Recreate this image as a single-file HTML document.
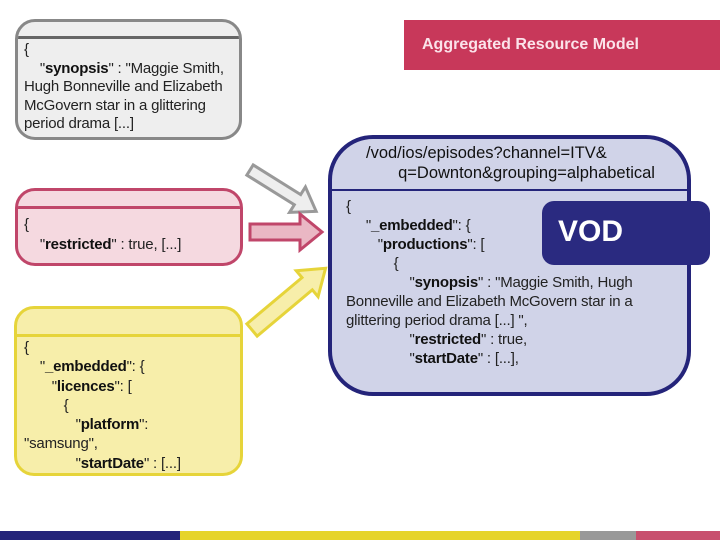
<!DOCTYPE html>
<html><head><meta charset="utf-8"><style>
body{margin:0;width:720px;height:540px;position:relative;background:#fff;font-family:"Liberation Sans",sans-serif;overflow:hidden}
.box{position:absolute;box-sizing:border-box;border-radius:20px;overflow:hidden}
.hdr{border-bottom:3px solid}
.t{position:absolute;font-size:15px;line-height:18.5px;color:#222;white-space:pre;letter-spacing:-0.2px}
b{color:#111}
</style></head><body>
<div class="box" style="left:15px;top:19px;width:227px;height:121px;background:#eee;border:3px solid #888">
<div class="hdr" style="height:14px;border-color:#666"></div></div>
<div class="t" style="left:24px;top:41px">{
    "<b>synopsis</b>" : "Maggie Smith,
Hugh Bonneville and Elizabeth
McGovern star in a glittering
period drama [...]</div>

<div class="box" style="left:15px;top:188px;width:228px;height:78px;background:#f5d9e0;border:3px solid #c0466a">
<div class="hdr" style="height:15px;border-color:#c0466a"></div></div>
<div class="t" style="left:24px;top:215px;line-height:20px">{
    "<b>restricted</b>" : true, [...]</div>

<div class="box" style="left:14px;top:306px;width:229px;height:170px;background:#f7eeaa;border:3px solid #e6d43a">
<div class="hdr" style="height:25px;border-color:#e6d43a"></div></div>
<div class="t" style="left:24px;top:338px;line-height:19.3px">{
    "<b>_embedded</b>": {
       "<b>licences</b>": [
          {
             "<b>platform</b>":
"samsung",
             "<b>startDate</b>" : [...]</div>

<div class="box" style="left:328px;top:135px;width:363px;height:261px;background:#d0d3e8;border:4px solid #24247a;border-radius:45px">
<div class="hdr" style="height:50px;border-color:#24247a;border-bottom-width:2px"></div></div>
<div class="t" style="left:366px;top:143px;font-size:16.5px;line-height:20px;color:#111;letter-spacing:0">/vod/ios/episodes?channel=ITV&amp;
       q=Downton&amp;grouping=alphabetical</div>
<div class="t" style="left:346px;top:197px;line-height:19px">{
     "<b>_embedded</b>": {
        "<b>productions</b>": [
            {
                "<b>synopsis</b>" : "Maggie Smith, Hugh
Bonneville and Elizabeth McGovern star in a
glittering period drama [...] ",
                "<b>restricted</b>" : true,
                "<b>startDate</b>" : [...],</div>
<div style="position:absolute;left:542px;top:201px;width:168px;height:64px;background:#2a2a80;border-radius:12px"></div>
<div style="position:absolute;left:558px;top:215px;color:#fff;font-size:30px;font-weight:bold">VOD</div>

<div style="position:absolute;left:404px;top:20px;width:316px;height:50px;background:#c8385a"></div>
<div style="position:absolute;left:422px;top:36px;color:#fbe3ea;font-size:16px;font-weight:bold">Aggregated Resource Model</div>

<svg style="position:absolute;left:0;top:0" width="720" height="540">
<g transform="translate(250,170) rotate(32)"><polygon points="0,-6 56,-6 56,-15 78,0 56,15 56,6 0,6" fill="#eee" stroke="#999" stroke-width="3"/></g>
<polygon points="250,224 300,224 300,214 322,232 300,250 300,240 250,240" fill="#eab7c4" stroke="#c0466a" stroke-width="3"/>
<g transform="translate(252,330) rotate(-40)"><polygon points="0,-8 72,-8 72,-17 96,0 72,17 72,8 0,8" fill="#f7eeaa" stroke="#e6d43a" stroke-width="3"/></g>
<rect x="0" y="531" width="180" height="9" fill="#24247a"/>
<rect x="180" y="531" width="400" height="9" fill="#e6d42a"/>
<rect x="580" y="531" width="56" height="9" fill="#999"/>
<rect x="636" y="531" width="84" height="9" fill="#c8506e"/>
</svg>
</body></html>
